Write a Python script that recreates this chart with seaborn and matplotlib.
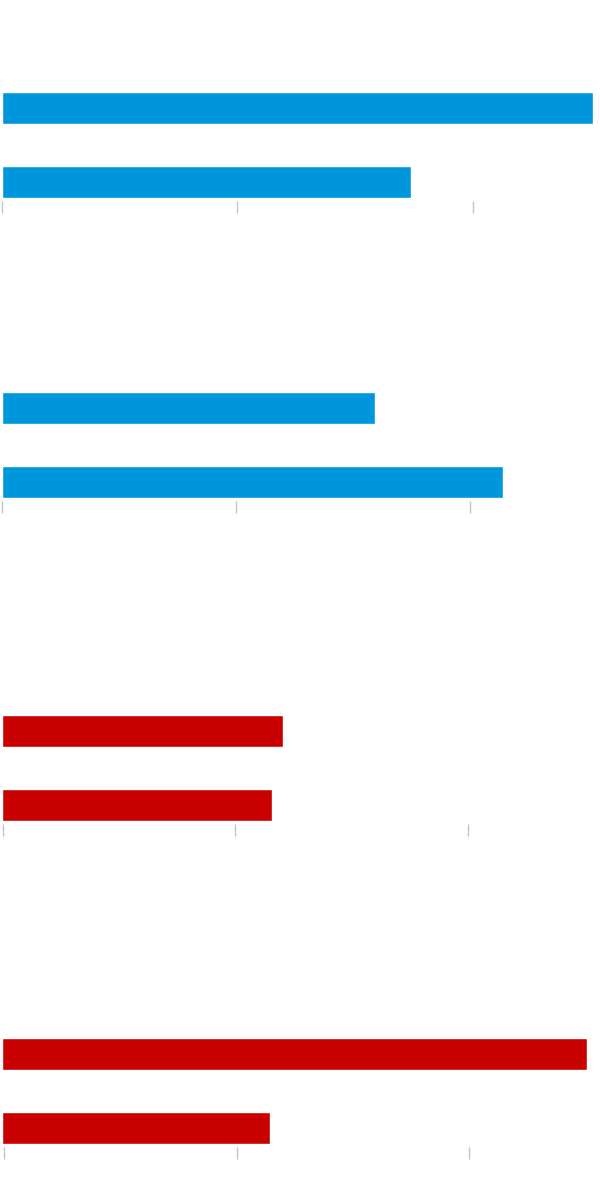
import pandas as pd
import matplotlib
matplotlib.use("Agg")
import matplotlib.pyplot as plt
import seaborn as sns

# Four small panels, two bars each (no text in the original)
categories = ["A", "B"]
panel1 = [2.513, 1.737]
panel2 = [1.598, 2.145]
panel3 = [1.212, 1.165]
panel4 = [2.52, 1.155]
tick_values = [0, 1, 2]

blue = "#0096db"
red = "#c80000"

# per panel: values, colour, axes top/bottom in px, left px of zero, px per unit
panels = [
    (panel1, blue, 88.5, 200.5, 1.5, 235.5),
    (panel2, blue, 388.5, 500.5, 1.5, 234.0),
    (panel3, red, 711.5, 823.5, 1.5, 232.5),
    (panel4, red, 1034.5, 1146.5, 1.5, 232.5),
]
tick_shift = [0.0, 0.0, 1.2, 2.5]

W, H = 600, 1198
sns.set_style("white")
fig = plt.figure(figsize=(W / 100, H / 100), dpi=100)

for (values, color, top, bottom, x0, unit), shift in zip(panels, tick_shift):
    ax = fig.add_axes([x0 / W, 1 - bottom / H, (W - x0) / W, (bottom - top) / H])
    df = pd.DataFrame({"cat": categories, "val": values})
    sns.barplot(data=df, x="val", y="cat", color=color, saturation=1,
                width=32 / 74, ax=ax)
    ax.set_xlim(0, (W - x0) / unit)
    ax.set_ylim(1 + 16 / 74 + 3 / 74, -16 / 74 - 3 / 74)
    ax.set_xticks([t + shift / unit for t in tick_values])
    ax.set_xticklabels([])
    ax.set_yticks([])
    ax.set_xlabel("")
    ax.set_ylabel("")
    ax.tick_params(axis="x", direction="out", length=8.5, width=1,
                   color="#c4c4c4", bottom=True)
    for s in ax.spines.values():
        s.set_visible(False)
    ax.patch.set_alpha(0)

fig.savefig("out.png", dpi=100)
